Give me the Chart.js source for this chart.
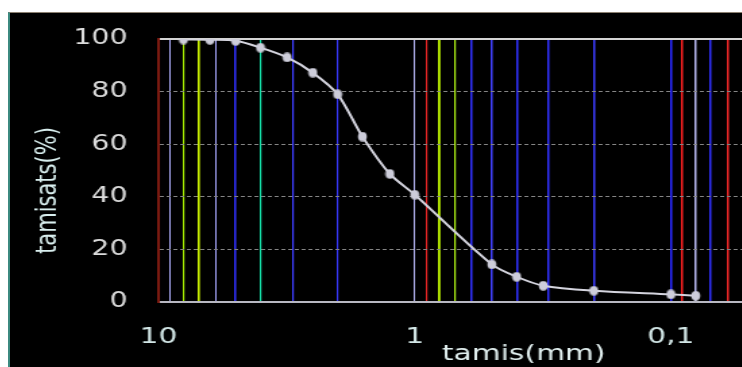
<!DOCTYPE html>
<html>
<head>
<meta charset="utf-8">
<script src="https://cdn.jsdelivr.net/npm/chart.js@4.4.1/dist/chart.umd.min.js"></script>
<style>
  html, body { margin: 0; padding: 0; background: #fff; width: 742px; height: 367px; overflow: hidden; }
  #frame {
    position: absolute; left: 8px; top: 12px; width: 732px; height: 354px;
    background: #000; overflow: hidden;
    border-top: 1px solid #8a7f70; border-left: 2px solid #3c8a80;
  }
  /* le graphique d'origine est étiré en largeur */
  #wrap { position: absolute; left: 0; top: 0; width: 657px; height: 354px; transform: scaleX(1.35); transform-origin: 0 0; }
</style>
</head>
<body>
<div id="frame"><div id="wrap"><canvas id="chartTamis"></canvas></div></div>
<script>
// tamis (mm) et tamisats cumulés (%)
const sieve   = [8, 6.3, 5, 4, 3.15, 2.5, 2, 1.6, 1.25, 1, 0.5, 0.4, 0.315, 0.2, 0.1, 0.08];
const passing = [99.8, 99.7, 99.3, 96.7, 93.0, 87.2, 79.0, 62.9, 48.7, 40.8, 14.3, 9.6, 6.2, 4.3, 2.9, 2.4];

// lignes verticales de la grille log et libellés de l'axe x
const xGridValues = [10, 9, 8, 7, 6, 5, 4, 3, 2, 1, 0.9, 0.8, 0.7, 0.6, 0.5, 0.4, 0.3, 0.2, 0.1, 0.09, 0.08, 0.07, 0.06, 0.05, 0.04, 0.03, 0.02];
const xGridColors = ['#7a1a10', '#b0b0ff', '#a4ec00', '#d0f800', '#a8a8ff', '#3030ff', '#14e0a8', '#3c3cff', '#3838ff',
                     '#b8b8f8', '#e42424', '#c0f800', '#a8e814', '#3030ff', '#4040ff', '#3030ff', '#3030ff', '#3c3cff',
                     '#2828ff', '#ff2020', '#b8b8f0', '#3030ff', '#f42828', '#3030ff', '#3030ff', '#3030ff', '#3030ff'];
const xGridWidths = [2, 1, 1.2, 1.6, 1, 1.5, 1.2, 1.2, 1.2, 1, 1.2, 1.8, 1.2, 1.5, 1.5, 1.5, 1.5, 1.5, 1.5, 1.5, 1.5, 1.5, 1.5, 1.5, 1.5, 1.5, 1.5];
const xLabelValues = [10, 1, 0.1];
const xLabelTexts  = ['10', '1', '0,1'];
const xMin = 0.0141, xMax = 10;

// axe y
const yGridValues  = [10, 20, 40, 60, 80];
const yLabelValues = [0, 20, 40, 60, 80, 100];

const FONT = 'DejaVu Sans';

// point légèrement ovale (compense l'étirement horizontal)
const dot = document.createElement('canvas');
dot.width = 8; dot.height = 10;
(() => {
    const g = dot.getContext('2d');
    g.fillStyle = '#cdcdda';
    g.beginPath(); g.ellipse(4, 5, 3.3, 4.8, 0, 0, Math.PI * 2); g.fill();
})();

// titre y décalé vers le bas comme sur l'original
const shiftTitle = {
    id: 'shiftTitle',
    beforeDraw(chart) {
        const y = chart.scales.y;
        if (!y || y._shifted) return;
        const draw = y.drawTitle;
        y.drawTitle = function () { this.ctx.save(); this.ctx.translate(0, 20); draw.call(this); this.ctx.restore(); };
        y._shifted = true;
    }
};

new Chart(document.getElementById('chartTamis'), {
    type: 'line',
    data: {
        datasets: [{
            label: 'tamisats',
            data: sieve.map((x, i) => ({ x, y: passing[i] })),
            borderColor: '#d4d4de',
            borderWidth: 2,
            tension: 0.3,
            pointStyle: dot,
            pointRadius: 4,
            pointHoverRadius: 4,
            fill: false
        }]
    },
    options: {
        responsive: true,
        maintainAspectRatio: false,
        animation: false,
        layout: { padding: { top: 26, left: 0, right: 0, bottom: 0 } },
        plugins: { legend: { display: false }, tooltip: { enabled: false } },
        scales: {
            x: {
                type: 'logarithmic',
                reverse: true,
                min: xMin,
                max: xMax,
                afterBuildTicks: (s) => { s.ticks = xGridValues.map(v => ({ value: v })); },
                afterFit: (s) => { s.height = 65; },
                grid: {
                    drawTicks: false,
                    color: (c) => xGridColors[xGridValues.indexOf(c.tick?.value)] || 'transparent',
                    lineWidth: (c) => xGridWidths[xGridValues.indexOf(c.tick?.value)] || 1
                },
                border: { color: '#b8b8c2', width: 2 },
                ticks: {
                    autoSkip: false, maxRotation: 0, padding: 22,
                    color: '#d2e6e6', font: { family: FONT, size: 22 },
                    callback: (v) => { const i = xLabelValues.indexOf(v); return i < 0 ? '' : xLabelTexts[i]; }
                },
                title: {
                    display: true, text: 'tamis(mm)', color: '#e0eeee',
                    font: { family: FONT, size: 22 }, padding: { top: 0, bottom: 0 }
                }
            },
            xTop: {
                type: 'linear',
                position: 'top',
                afterFit: (s) => { s.height = 0; },
                grid: { display: false },
                ticks: { display: false },
                border: { color: '#d4d4d4', width: 2 }
            },
            y: {
                min: 0,
                max: 100,
                afterFit: (s) => { s.width = 110; s.paddingTop = 0; s.paddingBottom = 0; },
                grid: {
                    drawTicks: false,
                    color: (c) => yGridValues.includes(c.tick?.value) ? '#858585' : 'transparent',
                    lineWidth: 1
                },
                border: { color: '#7a1a10', width: 2, dash: [3, 2] },
                ticks: {
                    stepSize: 10, padding: 23,
                    color: '#dcdcdc', font: { family: FONT, size: 21 },
                    callback: (v) => yLabelValues.includes(v) ? String(v) : ''
                },
                title: {
                    display: true, text: 'tamisats(%)', color: '#d8eeee',
                    font: { family: FONT, size: 21 }, padding: { top: 16, bottom: 0 }
                }
            }
        }
    },
    plugins: [shiftTitle]
});
</script>
</body>
</html>
